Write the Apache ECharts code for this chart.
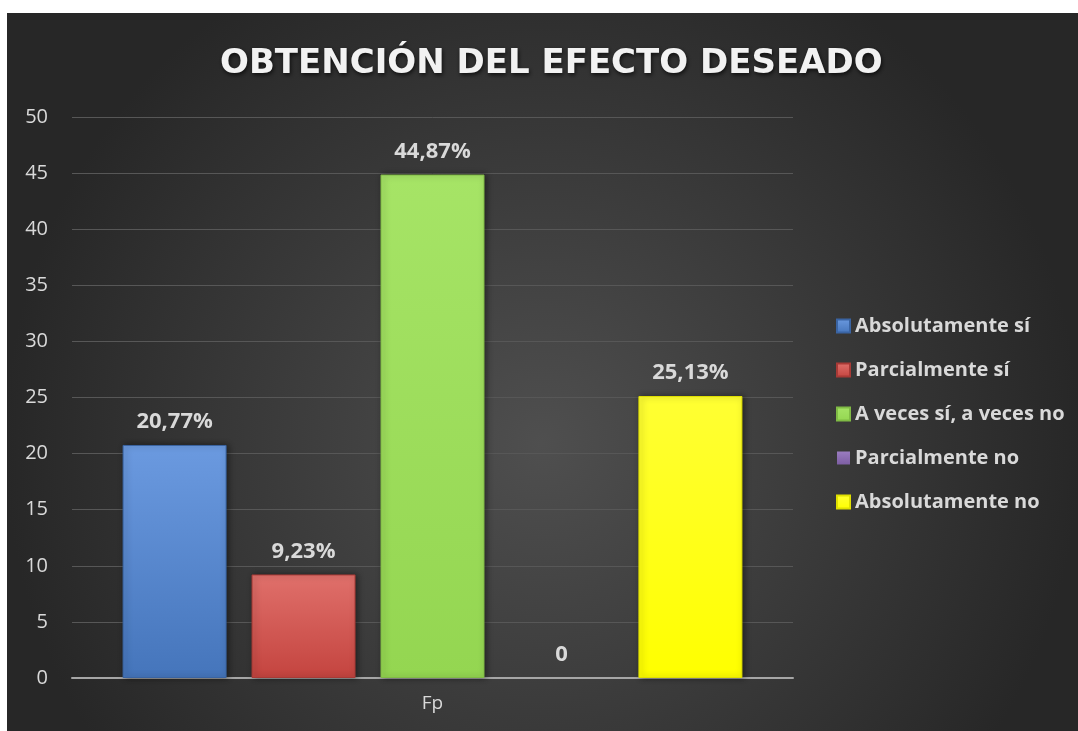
<!DOCTYPE html>
<html lang="es">
<head>
    <meta charset="UTF-8">
    <title>Obtención del efecto deseado</title>
    <script src="https://cdn.jsdelivr.net/npm/echarts@6/dist/echarts.min.js"></script>
    <style>
        body { margin: 0; background: #fff; }
        #chart { position: absolute; left: 7px; top: 13px; width: 1071px; height: 718px; }
    </style>
</head>
<body>
<div id="chart"></div>
<script>
    // datos
    var categories = ['Fp'];
    var seriesNames = ['Absolutamente sí', 'Parcialmente sí', 'A veces sí, a veces no', 'Parcialmente no', 'Absolutamente no'];
    var seriesValues = [20.77, 9.23, 44.87, 0, 25.13];
    var valueLabels = ['20,77%', '9,23%', '44,87%', '0', '25,13%'];
    var yTicks = [0, 5, 10, 15, 20, 25, 30, 35, 40, 45, 50];

    // colores de las barras (arriba, abajo, borde)
    var barColors = [
        ['#6b9ae0', '#4575bb', '#3a64a3'],
        ['#e0706b', '#c4443f', '#a83a36'],
        ['#a6e466', '#94d651', '#80bb45'],
        ['#9a7cc0', '#7d5ea3', '#664c88'],
        ['#ffff33', '#ffff00', '#e0e000']
    ];

    var txt = '#d9d9d9';
    var font = '"Open Sans", Lato, sans-serif';

    var series = seriesNames.map(function (name, i) {
        var empty = seriesValues[i] === 0;
        return {
            name: name,
            type: 'bar',
            barWidth: 104,
            barGap: '24%',
            data: [seriesValues[i]],
            itemStyle: {
                color: {
                    type: 'linear', x: 0, y: 0, x2: 0, y2: 1,
                    colorStops: [
                        {offset: 0, color: barColors[i][0]},
                        {offset: 1, color: barColors[i][1]}
                    ]
                },
                borderColor: barColors[i][2],
                borderWidth: empty ? 0 : 1,
                shadowColor: 'rgba(0,0,0,0.45)',
                shadowBlur: empty ? 0 : 6,
                shadowOffsetX: 2,
                shadowOffsetY: 0
            },
            label: {
                show: true,
                position: 'top',
                distance: 12,
                color: txt,
                fontFamily: font,
                fontWeight: 'bold',
                fontSize: 22,
                formatter: function () { return valueLabels[i]; }
            }
        };
    });

    var chart = echarts.init(document.getElementById('chart'));
    chart.setOption({
        backgroundColor: {
            type: 'radial', x: 0.5, y: 0.6, r: 0.75,
            colorStops: [
                {offset: 0, color: '#4f4f4f'},
                {offset: 1, color: '#272727'}
            ]
        },
        title: {
            text: 'OBTENCIÓN DEL EFECTO DESEADO',
            left: 208,
            top: 29,
            textStyle: {
                color: '#f2f2f2',
                fontFamily: '"DejaVu Sans", sans-serif',
                fontWeight: 'bold',
                fontSize: 34,
                textShadowColor: 'rgba(0,0,0,0.7)',
                textShadowBlur: 4,
                textShadowOffsetX: 1,
                textShadowOffsetY: 2
            }
        },
        legend: {
            orient: 'vertical',
            left: 829,
            top: 303,
            padding: 0,
            icon: 'rect',
            itemWidth: 13,
            itemHeight: 13,
            itemGap: 24,
            data: seriesNames,
            textStyle: {
                color: txt,
                fontFamily: font,
                fontWeight: 'bold',
                fontSize: 20,
                lineHeight: 18
            }
        },
        grid: {
            left: 65,
            right: 285,
            top: 104,
            bottom: 53
        },
        xAxis: {
            type: 'category',
            data: categories,
            axisTick: {show: false},
            axisLine: {lineStyle: {color: '#a6a6a6', width: 2}},
            axisLabel: {color: txt, fontFamily: font, fontSize: 19, margin: 16}
        },
        yAxis: {
            type: 'value',
            min: yTicks[0],
            max: yTicks[yTicks.length - 1],
            interval: 5,
            axisLine: {show: false},
            axisTick: {show: false},
            axisLabel: {color: txt, fontFamily: font, fontSize: 20, margin: 24},
            splitLine: {lineStyle: {color: '#575757', width: 1}}
        },
        series: series
    });
</script>
</body>
</html>
